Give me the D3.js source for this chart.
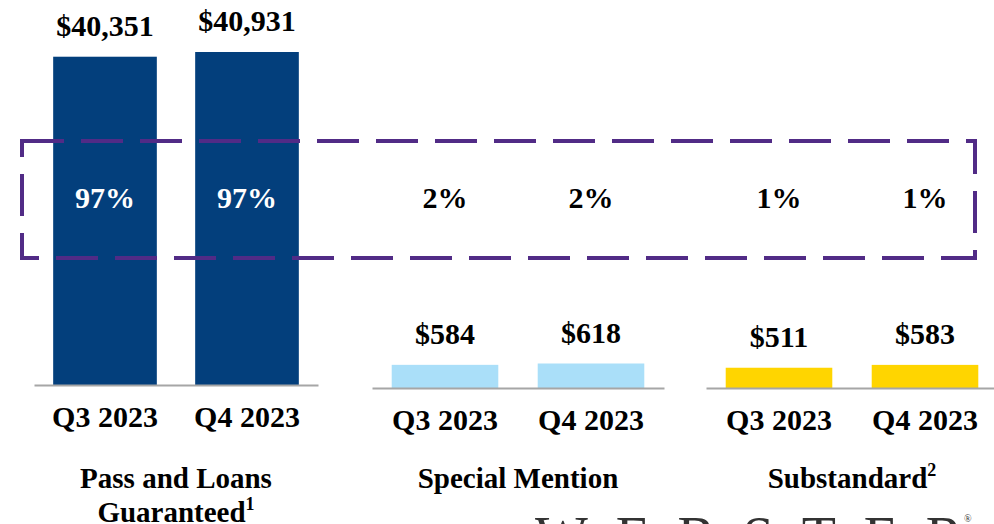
<!DOCTYPE html>
<html>
<head>
<meta charset="utf-8">
<script src="https://cdn.jsdelivr.net/npm/d3@7"></script>
<style>
  html, body { margin: 0; padding: 0; background: #fff; overflow: hidden; }
  svg { display: block; }
</style>
</head>
<body>
<div id="chart"></div>
<script>
// chart data
let quarters = ['Q3 2023', 'Q4 2023'];
let groupNames = ['Pass and Loans Guaranteed', 'Special Mention', 'Substandard'];
let footnotes = ['1', '', '2'];
let passValues = [40351, 40931];
let mentionValues = [584, 618];
let substandardValues = [511, 583];
let passShare = ['97%', '97%'];
let mentionShare = ['2%', '2%'];
let substandardShare = ['1%', '1%'];

// layout
let config = { width: 994, height: 524 };
let font = "'Liberation Serif', 'Times New Roman', serif";

let svg = d3.select('#chart').append('svg')
  .attr('width', config.width)
  .attr('height', config.height);

function translate(x, y) {
  return 'translate(' + x + ',' + y + ')';
}

// one panel per risk rating; big panel has its own scale, the two small ones share one
let yBig = d3.scaleLinear().domain([0, 40931]).range([385, 52]);
let ySmall = d3.scaleLinear().domain([0, 618]).range([388, 363.5]);

let panels = [
  { name: groupNames[0], note: footnotes[0], values: passValues, share: passShare,
    color: '#033f7c', shareColor: '#fff', range: [34, 318], y: yBig, base: 385 },
  { name: groupNames[1], note: footnotes[1], values: mentionValues, share: mentionShare,
    color: '#aadff9', shareColor: '#000', range: [372, 664], y: ySmall, base: 388 },
  { name: groupNames[2], note: footnotes[2], values: substandardValues, share: substandardShare,
    color: '#ffd500', shareColor: '#000', range: [706, 998], y: ySmall, base: 388 }
];

panels.forEach(function(p) {
  let x = d3.scaleBand()
    .domain(quarters)
    .range(p.range)
    .paddingInner(0.27)
    .paddingOuter(0.135);

  let rows = quarters.map(function(q, i) {
    return { q: q, v: p.values[i], s: p.share[i] };
  });

  let g = svg.append('g');

  g.selectAll('rect.bar')
    .data(rows)
    .enter()
    .append('rect')
      .attr('class', 'bar')
      .attr('x', d => x(d.q))
      .attr('y', d => p.y(d.v))
      .attr('width', x.bandwidth())
      .attr('height', d => p.base - p.y(d.v))
      .attr('fill', p.color);

  // axis
  let axis = g.append('g')
    .attr('transform', translate(0, p.base))
    .call(d3.axisBottom(x).tickSize(0).tickPadding(21));
  axis.select('.domain')
    .attr('stroke', '#a6a6a6')
    .attr('stroke-width', 2);
  axis.selectAll('text')
    .attr('font-family', font)
    .attr('font-weight', 'bold')
    .attr('font-size', 30)
    .attr('fill', '#000');

  // value labels
  g.selectAll('text.val')
    .data(rows)
    .enter()
    .append('text')
      .attr('class', 'val')
      .attr('x', d => x(d.q) + x.bandwidth() / 2)
      .attr('y', d => p.y(d.v) - 21)
      .attr('text-anchor', 'middle')
      .attr('font-family', font)
      .attr('font-weight', 'bold')
      .attr('font-size', 30)
      .text(d => '$' + d3.format(',')(d.v));

  // share labels
  g.selectAll('text.share')
    .data(rows)
    .enter()
    .append('text')
      .attr('class', 'share')
      .attr('x', d => x(d.q) + x.bandwidth() / 2)
      .attr('y', 208)
      .attr('text-anchor', 'middle')
      .attr('font-family', font)
      .attr('font-weight', 'bold')
      .attr('font-size', 30)
      .attr('fill', p.shareColor)
      .text(d => d.s);

  // group title
  let cx = x(quarters[0]) + (x(quarters[1]) + x.bandwidth() - x(quarters[0])) / 2;
  let words = p.name === groupNames[0] ? ['Pass and Loans', 'Guaranteed'] : [p.name];
  let title = g.append('text')
    .attr('text-anchor', 'middle')
    .attr('font-family', font)
    .attr('font-weight', 'bold')
    .attr('font-size', 29);
  words.forEach(function(w, i) {
    let t = title.append('tspan')
      .attr('x', cx)
      .attr('y', 488 + i * 34)
      .text(w);
    if (i === words.length - 1 && p.note) {
      title.append('tspan')
        .attr('font-size', 18)
        .attr('dy', -12)
        .text(p.note);
    }
  });
});

// dashed box around the share row
svg.append('rect')
  .attr('x', 22)
  .attr('y', 141)
  .attr('width', 953)
  .attr('height', 117)
  .attr('fill', 'none')
  .attr('stroke', '#512b86')
  .attr('stroke-width', 4)
  .attr('stroke-dasharray', '42,17');

// logo, cut off by the bottom edge
svg.append('text')
  .attr('x', 535)
  .attr('y', 556)
  .attr('textLength', 428)
  .attr('lengthAdjust', 'spacing')
  .attr('font-family', font)
  .attr('font-size', 56)
  .attr('fill', '#333')
  .text('WEBSTER');
svg.append('text')
  .attr('x', 964)
  .attr('y', 522)
  .attr('font-family', font)
  .attr('font-size', 10)
  .attr('fill', '#333')
  .text('®');
</script>
</body>
</html>
